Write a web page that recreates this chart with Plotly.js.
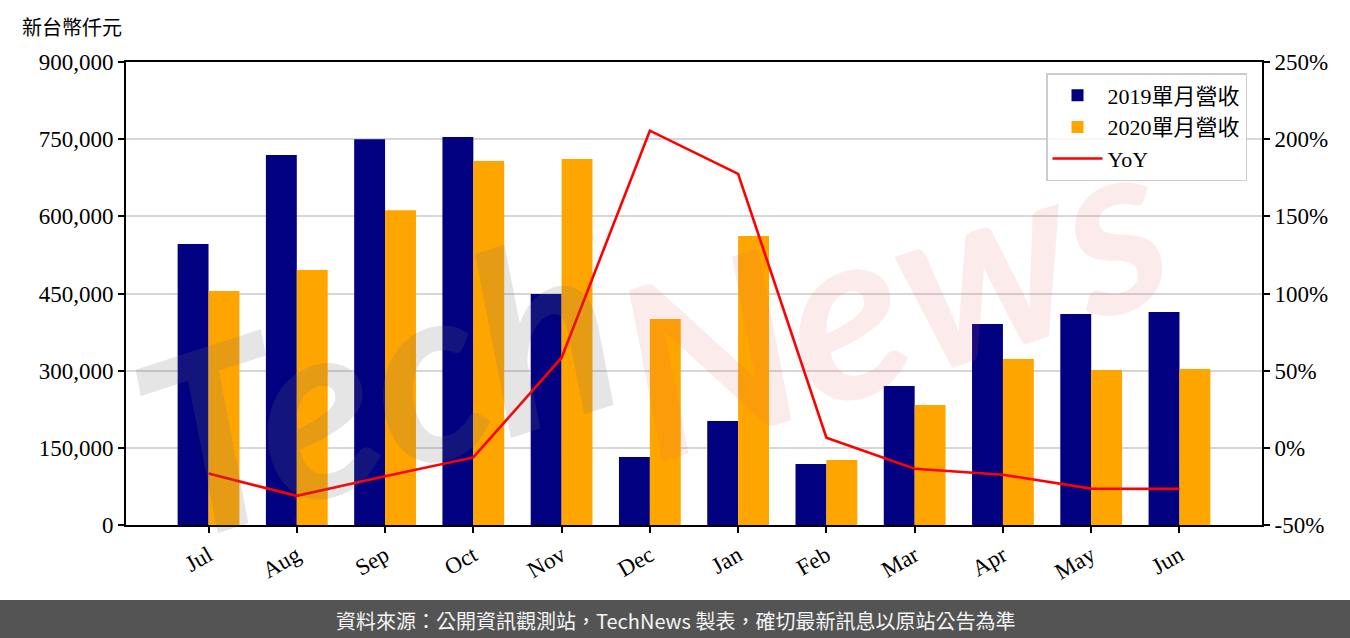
<!DOCTYPE html>
<html lang="zh-Hant">
<head>
<meta charset="utf-8">
<script src="https://cdn.plot.ly/plotly-3.0.1.min.js"></script>
<style>
  html, body { margin: 0; padding: 0; background: #ffffff; }
  #chart { width: 1350px; height: 638px; }
</style>
</head>
<body>
<div id="chart"></div>
<script>
// ---- Data ----
const months = ["Jul", "Aug", "Sep", "Oct", "Nov", "Dec", "Jan", "Feb", "Mar", "Apr", "May", "Jun"];
const revenue2019 = [546000, 719000, 750000, 754000, 449000, 132000, 202000, 118600, 270000, 390700, 410000, 414000];
const revenue2020 = [455000, 495500, 612000, 707500, 711400, 400400, 561800, 126300, 233300, 322700, 301300, 303200];
const yoyPct = [-16.7, -31.1, -18.4, -6.2, 58.4, 205.5, 177.5, 6.6, -13.6, -17.4, -26.4, -26.6];

const leftTickVals = [0, 150000, 300000, 450000, 600000, 750000, 900000];
const leftTickText = ["0", "150,000", "300,000", "450,000", "600,000", "750,000", "900,000"];
const rightTickVals = [-50, 0, 50, 100, 150, 200, 250];
const rightTickText = ["-50%", "0%", "50%", "100%", "150%", "200%", "250%"];

const seriesNames = ["2019單月營收", "2020單月營收", "YoY"];
const unitLabel = "新台幣仟元";
const footerText = "資料來源：公開資訊觀測站，TechNews 製表，確切最新訊息以原站公告為準";

// ---- Layout geometry (pixels) ----
const W = 1350, H = 638;
const mL = 126, mR = 88, mT = 62, mB = 113;
const pw = W - mL - mR, ph = H - mT - mB;
const px = x => (x - mL) / pw;          // pixel x -> paper x
const py = y => (H - mB - y) / ph;      // pixel y -> paper y

const serif = "'Liberation Serif', 'DejaVu Serif', 'Noto Sans CJK TC', serif";
const tickSize = 23;

const traces = [
  {
    type: "bar", name: seriesNames[0], x: months, y: revenue2019,
    marker: { color: "#000080" }, yaxis: "y"
  },
  {
    type: "bar", name: seriesNames[1], x: months, y: revenue2020,
    marker: { color: "#ffa500" }, yaxis: "y"
  },
  {
    type: "scatter", mode: "lines", name: seriesNames[2], x: months, y: yoyPct,
    line: { color: "#ff0000", width: 2.6 }, yaxis: "y2"
  }
];

const layout = {
  width: W, height: H,
  margin: { l: mL, r: mR, t: mT, b: mB, pad: 0 },
  paper_bgcolor: "#ffffff",
  plot_bgcolor: "#ffffff",
  font: { family: serif, size: tickSize, color: "#000000" },
  showlegend: true,
  barmode: "group",
  bargap: 0.3,
  bargroupgap: 0,
  xaxis: {
    type: "category",
    range: [-0.935, 11.935],
    tickangle: -30,
    showline: true, mirror: true, linecolor: "#000000", linewidth: 2,
    ticks: "outside", ticklen: 6, tickwidth: 2, tickcolor: "#000000",
    showgrid: false, zeroline: false,
    tickfont: { family: serif, size: tickSize, color: "#000000" }
  },
  yaxis: {
    range: [0, 900000],
    tickvals: leftTickVals, ticktext: leftTickText,
    showline: true, linecolor: "#000000", linewidth: 2,
    ticks: "outside", ticklen: 6, tickwidth: 2, tickcolor: "#000000",
    showgrid: true, gridcolor: "#d6d6d6", gridwidth: 2,
    zeroline: false,
    tickfont: { family: serif, size: tickSize, color: "#000000" }
  },
  yaxis2: {
    overlaying: "y", side: "right",
    range: [-50, 250],
    tickvals: rightTickVals, ticktext: rightTickText,
    showline: true, linecolor: "#000000", linewidth: 2,
    ticks: "outside", ticklen: 6, tickwidth: 2, tickcolor: "#000000",
    showgrid: false, zeroline: false,
    tickfont: { family: serif, size: tickSize, color: "#000000" }
  },
  legend: {
    x: px(1247), y: py(73), xanchor: "right", yanchor: "top",
    bgcolor: "rgba(255,255,255,0.8)",
    bordercolor: "#cccccc", borderwidth: 1.5,
    font: { family: serif, size: 22, color: "#000000" },
    tracegroupgap: 0,
    itemwidth: 50
  },
  shapes: [
    {
      type: "rect", xref: "paper", yref: "paper",
      x0: px(0), x1: px(W), y0: py(H), y1: py(600),
      fillcolor: "#545454", line: { width: 0 }, layer: "above"
    }
  ],
  annotations: [
    {
      text: "<b><i>Tech</i></b>", xref: "paper", yref: "paper",
      x: px(375), y: py(380), xanchor: "center", yanchor: "middle",
      showarrow: false, textangle: -18,
      font: { family: "Lato, 'DejaVu Sans', sans-serif", size: 250, color: "rgba(110,110,110,0.18)" }
    },
    {
      text: "<b><i>News</i></b>", xref: "paper", yref: "paper",
      x: px(890), y: py(290), xanchor: "center", yanchor: "middle",
      showarrow: false, textangle: -18,
      font: { family: "Lato, 'DejaVu Sans', sans-serif", size: 240, color: "rgba(220,90,90,0.12)" }
    },
    {
      text: unitLabel, xref: "paper", yref: "paper",
      x: px(20), y: py(28), xanchor: "left", yanchor: "middle",
      showarrow: false,
      font: { family: serif, size: 20, color: "#000000" }
    },
    {
      text: footerText, xref: "paper", yref: "paper",
      x: px(675), y: py(620), xanchor: "center", yanchor: "middle",
      showarrow: false,
      font: { family: "'Noto Sans CJK TC', 'Noto Sans', sans-serif", size: 20, color: "#f4f4f4" }
    }
  ]
};

Plotly.newPlot("chart", traces, layout, { displayModeBar: false, staticPlot: true });
</script>
</body>
</html>
